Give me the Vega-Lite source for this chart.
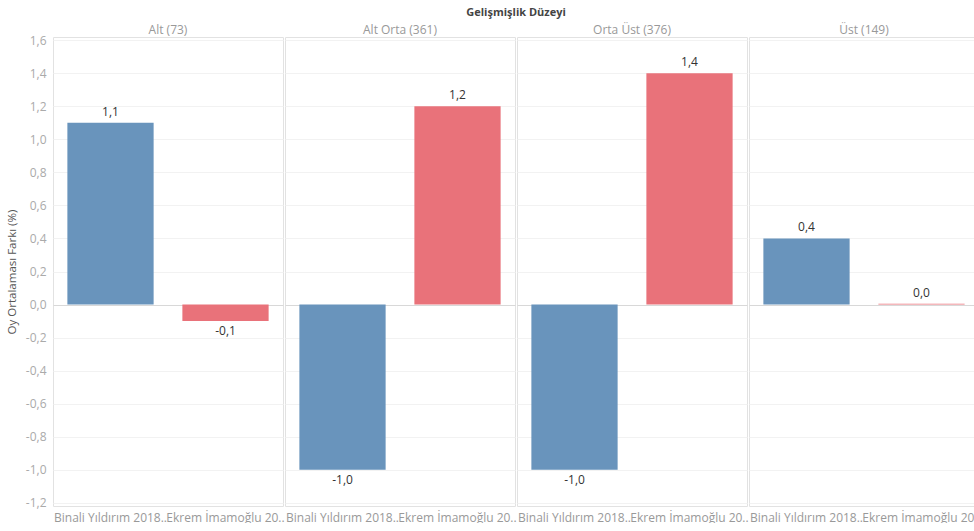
{
  "$schema": "https://vega.github.io/schema/vega-lite/v6.json",
  "padding": {"left": 6, "top": 7, "right": 0, "bottom": 0},
  "background": "white",
  "config": {
    "locale": {"number": {"decimal": ",", "thousands": ".", "grouping": [3], "currency": ["", ""], "minus": "-"}},
    "font": "Open Sans",
    "view": {"stroke": "#e2e2e2"},
    "facet": {"spacing": 0},
    "axis": {"labelFont": "Open Sans", "titleFont": "Open Sans"}
  },
  "data": {
    "values": [
      {"duzey": "Alt (73)", "aday": "Binali Yıldırım 2018..", "fark": 1.1},
      {"duzey": "Alt (73)", "aday": "Ekrem İmamoğlu 20..", "fark": -0.1},
      {"duzey": "Alt Orta (361)", "aday": "Binali Yıldırım 2018..", "fark": -1.0},
      {"duzey": "Alt Orta (361)", "aday": "Ekrem İmamoğlu 20..", "fark": 1.2},
      {"duzey": "Orta Üst (376)", "aday": "Binali Yıldırım 2018..", "fark": -1.0},
      {"duzey": "Orta Üst (376)", "aday": "Ekrem İmamoğlu 20..", "fark": 1.4},
      {"duzey": "Üst (149)", "aday": "Binali Yıldırım 2018..", "fark": 0.4},
      {"duzey": "Üst (149)", "aday": "Ekrem İmamoğlu 20..", "fark": 0.004}
    ]
  },
  "facet": {
    "column": {
      "field": "duzey",
      "type": "nominal",
      "sort": ["Alt (73)", "Alt Orta (361)", "Orta Üst (376)", "Üst (149)"],
      "title": "Gelişmişlik Düzeyi",
      "header": {
        "titleFontSize": 11,
        "titleFontWeight": "bold",
        "titleColor": "#444",
        "titlePadding": -4,
        "labelFontSize": 12,
        "labelColor": "#999",
        "labelPadding": -1
      }
    }
  },
  "spec": {
    "width": 230,
    "height": 469,
    "encoding": {
      "x": {
        "field": "aday",
        "type": "nominal",
        "title": null,
        "scale": {"paddingInner": 0.25, "paddingOuter": 0.125},
        "axis": {
          "labelAngle": 0,
          "labelFontSize": 12,
          "labelColor": "#999",
          "ticks": false,
          "domain": false,
          "labelPadding": 5,
          "labelLimit": 200
        }
      },
      "y": {
        "field": "fark",
        "type": "quantitative",
        "title": "Oy Ortalaması Farkı (%)",
        "scale": {"domain": [-1.22, 1.62], "nice": false, "zero": false},
        "axis": {
          "values": [-1.2, -1.0, -0.8, -0.6, -0.4, -0.2, 0, 0.2, 0.4, 0.6, 0.8, 1.0, 1.2, 1.4, 1.6],
          "format": ".1f",
          "labelFontSize": 12,
          "labelColor": "#aaa",
          "titleFontSize": 11.5,
          "titleFontWeight": "normal",
          "titleColor": "#555",
          "titlePadding": 8,
          "ticks": false,
          "domain": false,
          "labelPadding": 6,
          "gridColor": {"condition": {"test": "datum.value === 0", "value": "#d8d8d8"}, "value": "#f2f2f2"}
        }
      }
    },
    "layer": [
      {
        "mark": {"type": "bar"},
        "encoding": {
          "color": {
            "field": "aday",
            "type": "nominal",
            "scale": {"range": ["#6994bc", "#e9727a"]},
            "legend": null
          }
        }
      },
      {
        "transform": [{"filter": "datum.fark >= 0"}],
        "mark": {"type": "text", "baseline": "bottom", "dy": -4, "fontSize": 12, "color": "#333"},
        "encoding": {"text": {"field": "fark", "type": "quantitative", "format": ".1f"}}
      },
      {
        "transform": [{"filter": "datum.fark < 0"}],
        "mark": {"type": "text", "baseline": "top", "dy": 5, "fontSize": 12, "color": "#333"},
        "encoding": {"text": {"field": "fark", "type": "quantitative", "format": ".1f"}}
      }
    ]
  }
}
